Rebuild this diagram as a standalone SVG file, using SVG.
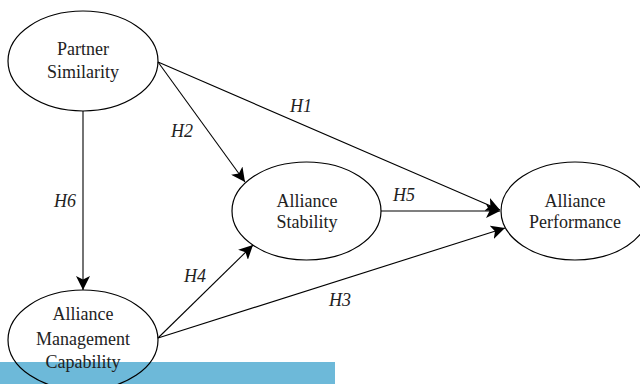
<svg xmlns="http://www.w3.org/2000/svg" width="640" height="384" viewBox="0 0 640 384">
<style>
.n ellipse{fill:none;stroke:#000;stroke-width:1.2}
.t{font-family:"Times New Roman","Liberation Serif","DejaVu Serif",serif;font-size:18px;fill:#222;text-anchor:middle}
.h{font-family:"Times New Roman","Liberation Serif","DejaVu Serif",serif;font-size:18px;font-style:italic;fill:#222;text-anchor:middle}
.c line{stroke:#000;stroke-width:1.1;marker-end:url(#a)}
</style>
<defs>
<marker id="a" viewBox="0 0 10 10" refX="10" refY="5" markerWidth="14" markerHeight="14" markerUnits="userSpaceOnUse" orient="auto">
<path d="M0,0 L10,5 L0,10 L2.5,5 z" fill="#000"/>
</marker>
</defs>
<rect width="640" height="384" fill="#fff"/>
<rect x="0" y="362" width="335" height="22" fill="#6db9d9"/>
<g class="c">
<line x1="158" y1="62" x2="500" y2="210"/>
<line x1="158" y1="62" x2="245" y2="182"/>
<line x1="83" y1="111" x2="83" y2="290"/>
<line x1="381" y1="211" x2="500" y2="211"/>
<line x1="158" y1="338" x2="253" y2="245"/>
<line x1="158" y1="338" x2="505" y2="228"/>
</g>
<g class="h">
<text x="301" y="112">H1</text>
<text x="182" y="137">H2</text>
<text x="65" y="207">H6</text>
<text x="404" y="201">H5</text>
<text x="195" y="282">H4</text>
<text x="340" y="306">H3</text>
</g>
<g id="partner" class="n">
<ellipse cx="83" cy="61" rx="75" ry="50"/>
<text class="t" x="83" y="55">Partner</text>
<text class="t" x="83" y="78">Similarity</text>
</g>
<g id="stability" class="n">
<ellipse cx="306.5" cy="211" rx="74.5" ry="49"/>
<text class="t" x="307" y="206.5">Alliance</text>
<text class="t" x="307" y="228">Stability</text>
</g>
<g id="performance" class="n">
<ellipse cx="575" cy="211" rx="74" ry="49"/>
<text class="t" x="575" y="206.5">Alliance</text>
<text class="t" x="575" y="228">Performance</text>
</g>
<g id="amc" class="n">
<ellipse cx="83" cy="340" rx="75" ry="50"/>
<text class="t" x="83" y="320">Alliance</text>
<text class="t" x="83" y="345">Management</text>
<text class="t" x="83" y="368">Capability</text>
</g>
</svg>
